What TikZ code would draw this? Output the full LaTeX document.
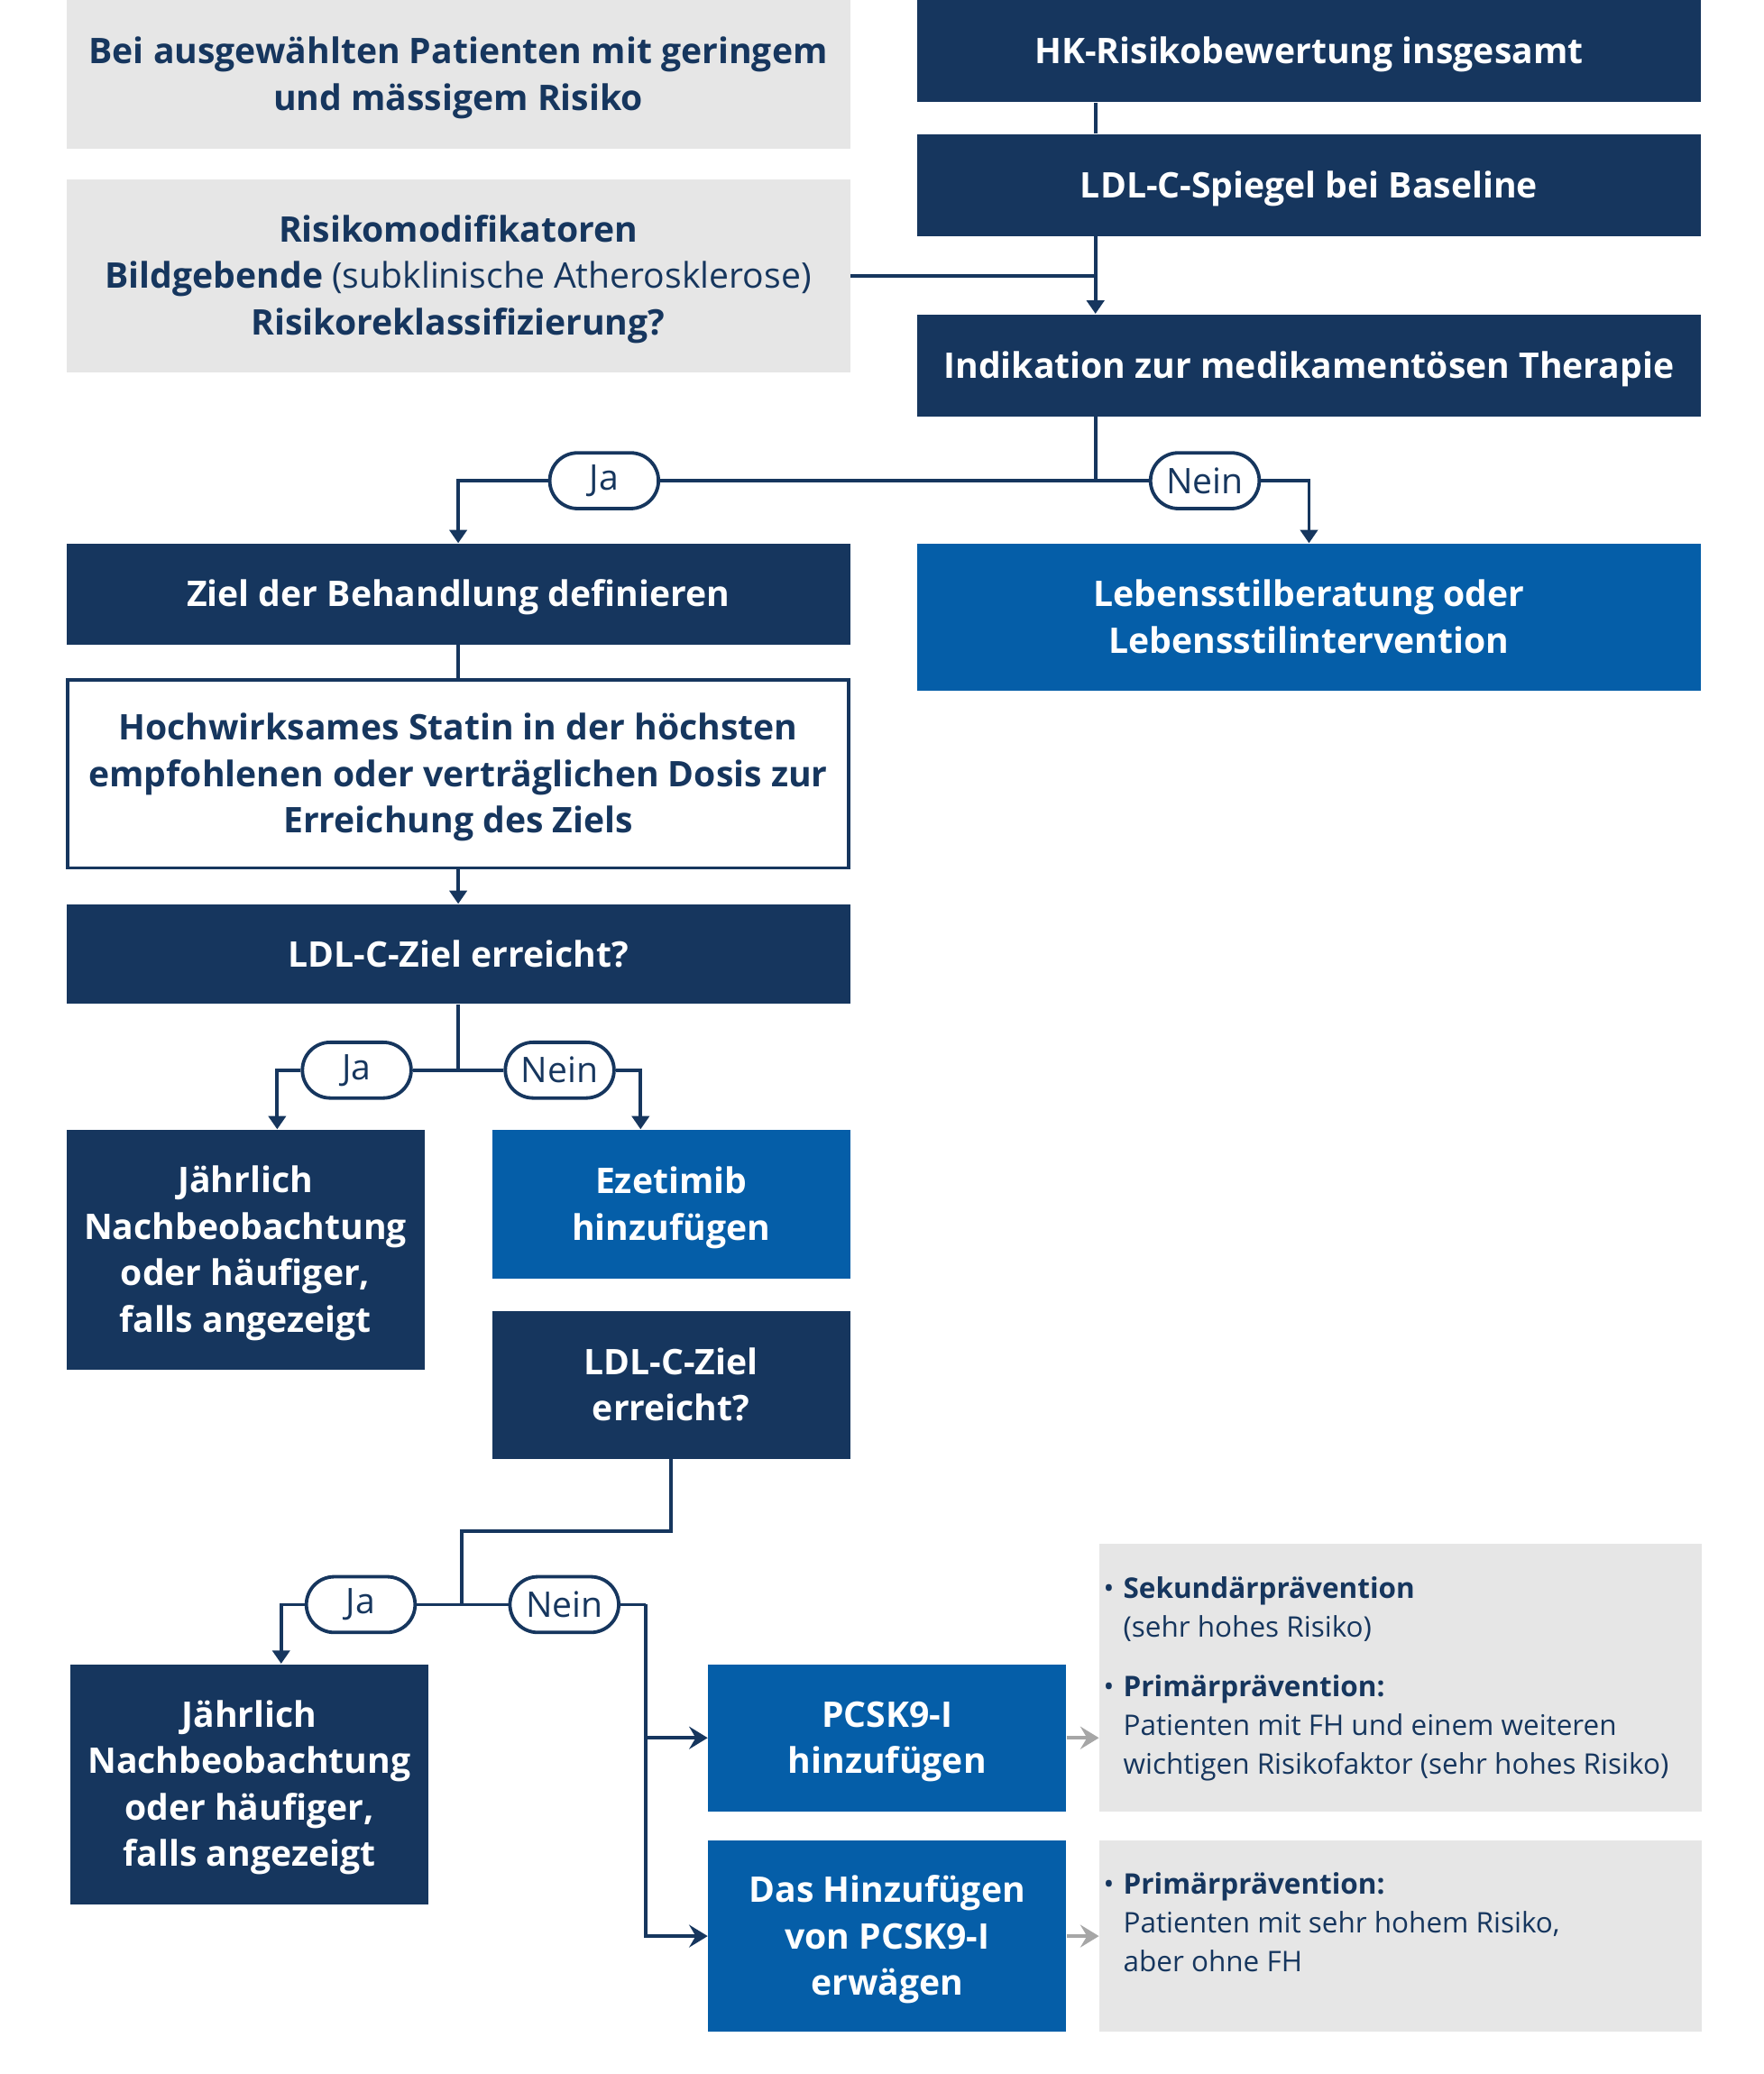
\documentclass[tikz,border=0pt]{standalone}
\usepackage{fontspec}
\setmainfont{Open Sans}
\usetikzlibrary{arrows.meta,calc}
\definecolor{navy}{HTML}{16365E}
\definecolor{mblue}{HTML}{055EA8}
\definecolor{lgray}{HTML}{E6E6E6}
\definecolor{agray}{HTML}{A6A6A6}
\newcommand\bul{\makebox[7.5pt][l]{\textbullet}}
\newcommand\ind{\hspace*{7.5pt}}
\begin{document}
\begin{tikzpicture}[x=0.5pt,y=-0.5pt,
  every node/.style={inner sep=0pt},
  wide/.style={minimum width=295.5pt, text width=290pt},
  narrow/.style={minimum width=135pt, text width=130pt},
  lines/.style={text height=12pt, text depth={(#1-1)*17.5pt+2.5pt}},
  dbox/.style={rectangle, fill=navy, text=white, font=\fontsize{13.3}{17.5}\selectfont\bfseries, align=flush center},
  bbox/.style={dbox, fill=mblue},
  gbox/.style={rectangle, fill=lgray, text=navy, font=\fontsize{13.3}{17.5}\selectfont, align=flush center},
  wbox/.style={rectangle, fill=white, draw=navy, line width=1.3pt, text=navy, font=\fontsize{13.3}{17.5}\selectfont\bfseries, align=flush center},
  sbox/.style={rectangle, fill=lgray, minimum width=227pt},
  stext/.style={text=navy, font=\fontsize{10.7}{14.5}\selectfont, align=flush left, text width=225pt},
  pill/.style={rectangle, rounded corners=10.5pt, draw=navy, line width=1.3pt, fill=white, minimum width=41pt, minimum height=21pt, text=navy, font=\fontsize{13.3}{15}\selectfont},
  conn/.style={draw=navy, line width=1.3pt},
  arr/.style={conn, -{Triangle[width=6.5pt,length=5pt]}},
  barr/.style={conn, -{Stealth[width=8.5pt,length=7pt,inset=2.5pt]}},
  garr/.style={draw=agray, line width=1.3pt, -{Stealth[width=8.5pt,length=7pt,inset=2.5pt]}}
]
\useasboundingbox (0,0) rectangle (1330,1564);

% top row
\node[gbox, wide, lines=2, minimum height=56pt] (g1) at (345.5,56)
  {\textbf{Bei ausgewählten Patienten mit geringem}\\\textbf{und mässigem Risiko}};
\node[dbox, wide, lines=1, minimum height=38.5pt] (hk) at (987,38.5) {HK-Risikobewertung insgesamt};
\node[dbox, wide, lines=1, minimum height=38.5pt] (ldl) at (987,139.5) {LDL-C-Spiegel bei Baseline};
\node[gbox, wide, lines=3, minimum height=73pt] (g2) at (345.5,208)
  {\textbf{Risikomodifikatoren}\\\textbf{Bildgebende} (subklinische Atherosklerose)\\\textbf{Risikoreklassifizierung?}};
\node[dbox, wide, lines=1, minimum height=38.5pt] (ind) at (987,275.5) {Indikation zur medikamentösen Therapie};

\node[dbox, wide, lines=1, minimum height=38pt] (ziel) at (345.5,448) {Ziel der Behandlung definieren};
\node[bbox, wide, lines=2, minimum height=55.5pt] (leb) at (987,465.5) {Lebensstilberatung oder\\Lebensstilintervention};
\node[wbox, wide, lines=3, minimum width=294.5pt, minimum height=71pt] (hoch) at (345.5,583.5)
  {Hochwirksames Statin in der höchsten\\empfohlenen oder verträglichen Dosis zur\\Erreichung des Ziels};
\node[dbox, wide, lines=1, minimum height=37.5pt] (ldlz) at (345.5,719.5) {LDL-C-Ziel erreicht?};

\node[dbox, narrow, lines=4, minimum height=90.5pt] (jahr1) at (185,942.5) {Jährlich\\Nachbeobachtung\\oder häufiger,\\falls angezeigt};
\node[bbox, narrow, lines=2, minimum height=56pt] (eze) at (506,908) {Ezetimib\\hinzufügen};
\node[dbox, narrow, lines=2, minimum height=55.5pt] (ldlz2) at (506,1044.5) {LDL-C-Ziel\\erreicht?};

\node[dbox, narrow, lines=4, minimum height=90.5pt] (jahr2) at (188,1345.5) {Jährlich\\Nachbeobachtung\\oder häufiger,\\falls angezeigt};
\node[bbox, narrow, lines=2, minimum height=55.5pt] (pcsk) at (669,1310.5) {PCSK9-I\\hinzufügen};
\node[bbox, narrow, lines=3, minimum height=72pt] (das) at (669,1460) {Das Hinzufügen\\von PCSK9-I\\erwägen};

\node[sbox, minimum height=101pt] (g3) at (1056,1265) {};
\node[stext] (g3t) at (1057,1266)
  {\bul\textbf{Sekundärprävention}\\\ind(sehr hohes Risiko)\\[8pt]
   \bul\textbf{Primärprävention:}\\\ind Patienten mit FH und einem weiteren\\\ind wichtigen Risikofaktor (sehr hohes Risiko)};
\node[sbox, minimum height=72pt] (g4) at (1056,1460) {};
\node[stext] (g4t) at (1057,1449.5)
  {\bul\textbf{Primärprävention:}\\\ind Patienten mit sehr hohem Risiko,\\\ind aber ohne FH};

% pills
\node[pill] (ja1) at (455.5,362.5) {Ja};
\node[pill] (nein1) at (908.5,362.5) {Nein};
\node[pill] (ja2) at (269,807) {Ja};
\node[pill] (nein2) at (422,807) {Nein};
\node[pill] (ja3) at (272,1210) {Ja};
\node[pill] (nein3) at (425.5,1210) {Nein};

% connectors
\coordinate (sx) at (826,0);
\draw[conn] (hk.south -| sx) -- (ldl.north -| sx);
\draw[arr] (ldl.south -| sx) -- (ind.north -| sx);
\draw[conn] (g2.east) -- (g2.east -| sx);
\draw[conn] (ind.south -| sx) -- (ja1.east -| sx);
\draw[conn] (ja1.east) -- (nein1.west);
\draw[arr] (ja1.west) -| (ziel.north);
\draw[arr] (nein1.east) -| (leb.north);

\draw[conn] (ziel) -- (hoch);
\draw[arr] (hoch) -- (ldlz);
\draw[conn] (ldlz.south) -- (ldlz.south |- ja2.east);
\draw[conn] (ja2.east) -- (nein2.west);
\draw[arr] (ja2.west) -| ($(jahr1.north)+(24,0)$);
\draw[arr] (nein2.east) -| ($(eze.north)+(-23,0)$);

\coordinate (sp3) at (348,1210);
\draw[conn] (ldlz2.south) -- ++(0,54) -| (sp3);
\draw[conn] (ja3.east) -- (nein3.west);
\draw[arr] (ja3.west) -| ($(jahr2.north)+(24,0)$);
\draw[conn] (nein3.east) -- ++(19,0) coordinate (r3);
\draw[barr] (r3) |- (pcsk.west);
\draw[barr] (r3) |- (das.west);

\draw[garr] (pcsk.east) -- (pcsk.east -| g3.west);
\draw[garr] (das.east) -- (das.east -| g4.west);
\end{tikzpicture}
\end{document}
